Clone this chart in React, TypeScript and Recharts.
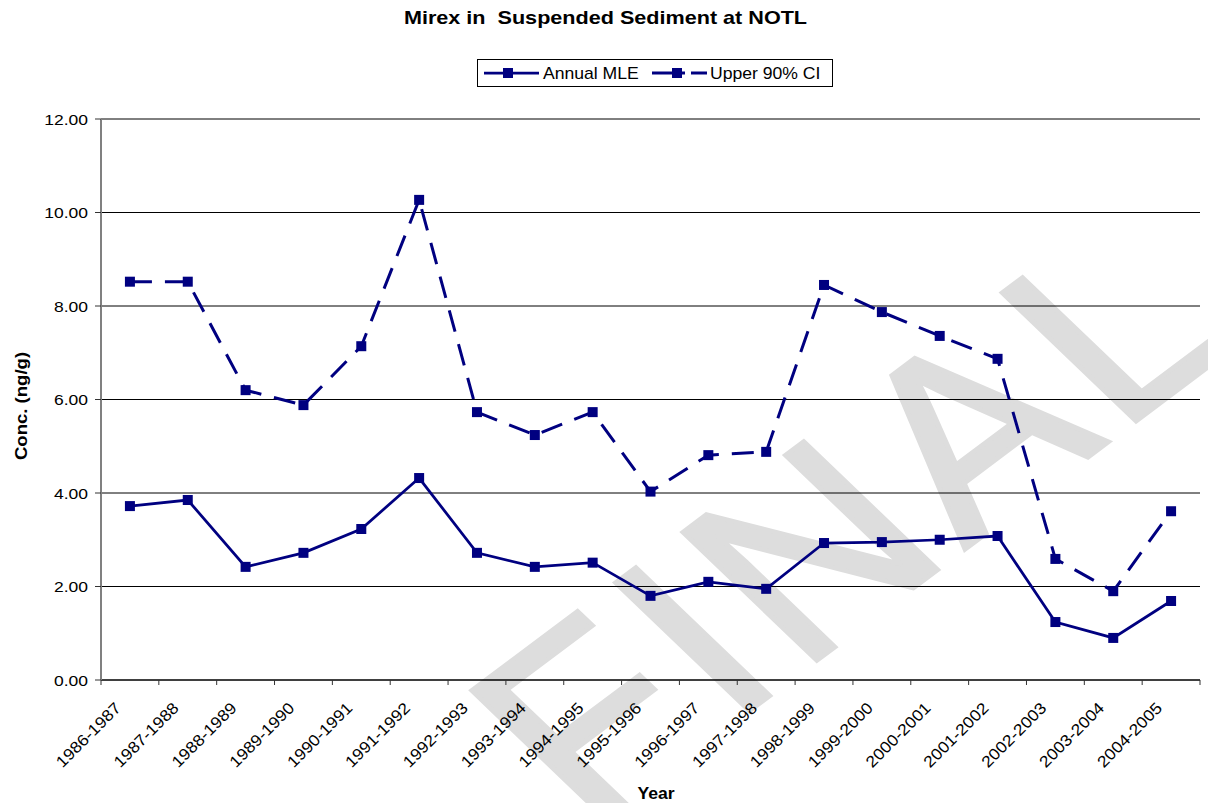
import React from "react";
import { LineChart, Line, XAxis, YAxis, CartesianGrid } from "recharts";

const years: string[] = [
  "1986-1987", "1987-1988", "1988-1989", "1989-1990", "1990-1991", "1991-1992",
  "1992-1993", "1993-1994", "1994-1995", "1995-1996", "1996-1997", "1997-1998",
  "1998-1999", "1999-2000", "2000-2001", "2001-2002", "2002-2003", "2003-2004", "2004-2005",
];
const annualMLE: number[] = [
  3.72, 3.85, 2.42, 2.72, 3.23, 4.32, 2.72, 2.42, 2.51, 1.80,
  2.10, 1.95, 2.93, 2.95, 3.00, 3.08, 1.24, 0.90, 1.69,
];
const upper90: number[] = [
  8.52, 8.52, 6.20, 5.88, 7.14, 10.27, 5.73, 5.24, 5.73, 4.03,
  4.81, 4.88, 8.45, 7.87, 7.36, 6.87, 2.59, 1.90, 3.61,
];
const yTicks: number[] = [0, 2, 4, 6, 8, 10, 12];

const data = years.map((y, i) => ({ year: y, mle: annualMLE[i], upper: upper90[i] }));

const NAVY = "#000080";
const FONT = "'Liberation Sans', Arial, Helvetica, sans-serif";
const W = 1208;
const H = 803;
const PLOT_L = 101;
const PLOT_R = 1200;
const BAND = (PLOT_R - PLOT_L) / years.length;

const SquareDot = (props: any) => {
  const { cx, cy } = props;
  if (cx == null || cy == null) return null;
  return <rect x={cx - 5} y={cy - 5} width={10} height={10} fill={NAVY} />;
};

const XTick = (props: any) => {
  const { x, y, payload, index } = props;
  const ax = x - 8;
  const ay = y + 29;
  return (
    <g>
      <line x1={x - BAND / 2} x2={x - BAND / 2} y1={y} y2={y + 5} stroke="#333" />
      {index === years.length - 1 && (
        <line x1={x + BAND / 2} x2={x + BAND / 2} y1={y} y2={y + 5} stroke="#333" />
      )}
      <text
        transform={`translate(${ax}, ${ay}) rotate(-45) scale(1.1, 1)`}
        textAnchor="end"
        fontSize={16}
        fontFamily={FONT}
        fill="#000"
      >
        {payload.value}
      </text>
    </g>
  );
};

const YTick = (props: any) => {
  const { x, y, payload } = props;
  return (
    <text
      transform={`translate(${x}, ${y}) scale(1.13, 1)`}
      textAnchor="end"
      dy="0.36em"
      fontSize={15.5}
      fontFamily={FONT}
      fill="#000"
    >
      {Number(payload.value).toFixed(2)}
    </text>
  );
};

export default function App() {
  return (
    <div
      style={{
        position: "absolute",
        left: 0,
        top: 0,
        width: W,
        height: H,
        overflow: "hidden",
        background: "#fff",
        fontFamily: FONT,
      }}
    >
      <svg width={W} height={H} style={{ position: "absolute", left: 0, top: 0 }}>
        <text
          transform="matrix(0.80, -0.60, 0.72, 0.69, 588, 832)"
          fontSize={270}
          fontFamily={FONT}
          fill="#dddddd"
          stroke="#dddddd"
          strokeWidth={5}
          letterSpacing={12}
        >
          FINAL
        </text>
      </svg>
      <div style={{ position: "absolute", left: 0, top: 0 }}>
        <LineChart
          width={W}
          height={H}
          data={data}
          margin={{ top: 119, right: W - PLOT_R, bottom: 23, left: PLOT_L - 60 }}
        >
          <CartesianGrid vertical={false} stroke="#000" strokeWidth={1} />
          <XAxis
            dataKey="year"
            interval={0}
            height={100}
            padding={{ left: BAND / 2, right: BAND / 2 }}
            tickLine={false}
            tickSize={0}
            tickMargin={0}
            axisLine={{ stroke: "#000" }}
            tick={<XTick />}
          />
          <YAxis
            domain={[0, 12]}
            ticks={yTicks}
            width={60}
            tickSize={6}
            tickMargin={7}
            axisLine={{ stroke: "#808080", strokeWidth: 2 }}
            tickLine={{ stroke: "#333" }}
            tick={<YTick />}
          />
          <Line
            dataKey="mle"
            stroke={NAVY}
            strokeWidth={2.75}
            dot={<SquareDot />}
            activeDot={false}
            isAnimationActive={false}
          />
          <Line
            dataKey="upper"
            stroke={NAVY}
            strokeWidth={3}
            strokeDasharray="22 13"
            dot={<SquareDot />}
            activeDot={false}
            isAnimationActive={false}
          />
        </LineChart>
      </div>
      <svg width={W} height={H} style={{ position: "absolute", left: 0, top: 0, pointerEvents: "none" }}>
        <text
          transform="translate(605.5, 24) scale(1.2, 1)"
          textAnchor="middle"
          fontSize={18}
          fontWeight="bold"
          fontFamily={FONT}
          fill="#000"
          style={{ whiteSpace: "pre" }}
        >
          Mirex in  Suspended Sediment at NOTL
        </text>
        <text
          transform="translate(27, 406) rotate(-90) scale(1.16, 1)"
          textAnchor="middle"
          fontSize={16}
          fontWeight="bold"
          fontFamily={FONT}
          fill="#000"
        >
          Conc. (ng/g)
        </text>
        <text
          transform="translate(656, 799) scale(1.1, 1)"
          textAnchor="middle"
          fontSize={16}
          fontWeight="bold"
          fontFamily={FONT}
          fill="#000"
        >
          Year
        </text>
        <g>
          <rect x={477.5} y={59.5} width={355} height={27} fill="#fff" stroke="#000" strokeWidth={1} />
          <line x1={484} x2={539} y1={73} y2={73} stroke={NAVY} strokeWidth={2.75} />
          <rect x={503} y={68} width={10} height={10} fill={NAVY} />
          <text transform="translate(543, 79) scale(1.1, 1)" fontSize={16} fontFamily={FONT} fill="#000">
            Annual MLE
          </text>
          <line x1={652} x2={685} y1={73} y2={73} stroke={NAVY} strokeWidth={3} />
          <line x1={691} x2={707} y1={73} y2={73} stroke={NAVY} strokeWidth={3} />
          <rect x={672} y={68} width={10} height={10} fill={NAVY} />
          <text transform="translate(710, 79) scale(1.1, 1)" fontSize={16} fontFamily={FONT} fill="#000">
            Upper 90% CI
          </text>
        </g>
      </svg>
    </div>
  );
}
